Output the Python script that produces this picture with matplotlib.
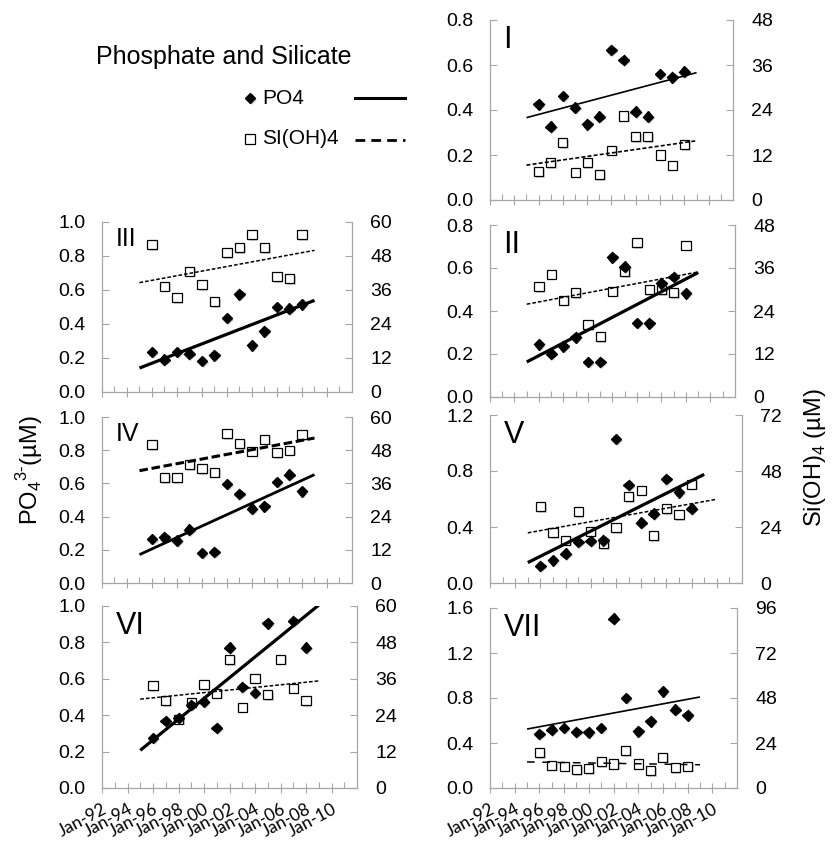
import matplotlib.pyplot as plt
import matplotlib.patheffects as pe
from matplotlib.lines import Line2D

plt.rcParams['font.family'] = ['Liberation Sans', 'DejaVu Sans']
plt.rcParams['mathtext.fontset'] = 'custom'
plt.rcParams['mathtext.rm'] = 'Liberation Sans'

# Data (annual values, Jan of each year)
years = [1996, 1997, 1998, 1999, 2000, 2001, 2002, 2003, 2004, 2005, 2006, 2007, 2008]
trend_years = [1995, 2009]
xtick_years = [1992, 1994, 1996, 1998, 2000, 2002, 2004, 2006, 2008, 2010]
xtick_labels = ['Jan-92', 'Jan-94', 'Jan-96', 'Jan-98', 'Jan-00',
                'Jan-02', 'Jan-04', 'Jan-06', 'Jan-08', 'Jan-10']

po4_I = [0.425, 0.326, 0.462, 0.410, 0.336, 0.370, 0.667, 0.622, 0.393, 0.370, 0.560, 0.545, 0.570]
si_I = [7.6, 10.0, 15.3, 7.4, 10.0, 6.8, 13.3, 22.4, 16.9, 16.9, 12.0, 9.3, 14.8]
po4_trend_I = [0.366, 0.566]
si_trend_I = [9.3, 15.8]

po4_II = [0.245, 0.202, 0.236, 0.277, 0.163, 0.163, 0.649, 0.606, 0.345, 0.342, 0.528, 0.559, 0.482]
si_II = [30.8, 34.3, 27.0, 29.1, 20.2, 16.8, 29.5, 34.9, 43.1, 30.0, 30.0, 29.1, 42.4]
po4_trend_II = [0.163, 0.579]
si_trend_II = [25.9, 34.9]

po4_III = [0.235, 0.190, 0.235, 0.225, 0.182, 0.216, 0.435, 0.575, 0.275, 0.357, 0.500, 0.490, 0.516]
si_III = [52.0, 37.3, 33.3, 42.7, 37.9, 31.8, 49.2, 50.9, 55.6, 50.9, 40.6, 40.0, 55.6]
po4_trend_III = [0.141, 0.539]
si_trend_III = [38.6, 50.0]

po4_IV = [0.265, 0.275, 0.255, 0.321, 0.181, 0.187, 0.596, 0.536, 0.448, 0.462, 0.608, 0.653, 0.552]
si_IV = [50.0, 38.0, 38.0, 42.8, 41.3, 40.1, 53.9, 50.4, 47.6, 52.0, 47.0, 48.0, 53.6]
po4_trend_IV = [0.171, 0.653]
si_trend_IV = [40.6, 52.4]

po4_V = [0.122, 0.162, 0.210, 0.294, 0.301, 0.305, 1.029, 0.699, 0.430, 0.496, 0.742, 0.647, 0.532]
si_V = [32.6, 21.5, 18.3, 30.5, 22.2, 16.9, 23.6, 36.9, 39.8, 20.2, 31.9, 29.3, 42.3]
po4_trend_V = [0.146, 0.776]
si_trend_years_V = [1995, 2010]
si_trend_V = [21.5, 35.9]

po4_VI = [0.274, 0.369, 0.384, 0.457, 0.475, 0.329, 0.771, 0.554, 0.521, 0.905, None, 0.918, 0.771]
si_VI = [33.7, 28.7, 22.7, 28.2, 34.0, 31.3, 42.4, 26.6, 36.2, 30.7, 42.5, 32.9, 28.7]
po4_trend_VI = [0.207, 1.005]
si_trend_VI = [29.3, 35.3]

po4_VII = [0.480, 0.519, 0.533, 0.498, 0.495, 0.533, 1.505, 0.800, 0.504, 0.593, 0.859, 0.696, 0.646]
si_VII = [18.7, 12.1, 11.6, 9.8, 10.3, 13.9, 12.8, 19.9, 12.8, 9.4, 16.5, 10.7, 11.6]
po4_trend_VII = [0.524, 0.809]
si_trend_VII = [13.9, 12.4]

W, H = 838, 841
GRAY = '#a6a6a6'
shadow = [pe.SimplePatchShadow(offset=(1.2, -1.2), shadow_rgbFace='0.5', alpha=0.35), pe.Normal()]

thin_dash = (0, (2.4, 1.3))
thick_dash = (0, (2.8, 1.2))
long_dash = (0, (5, 5))

# name, rect(px: left, top, right, bottom), po4 ylim, si ylim, label size, data, trends, styles
panels = [
    dict(name='I', rect=(490, 20, 733, 200), ymax=0.8, ystep=0.2, smax=48, sstep=12, fs=22,
         po4=po4_I, si=si_I, pt=po4_trend_I, st=si_trend_I, sy=trend_years,
         plw=1.2, slw=1.2, sls=thin_dash, xlabels=False),
    dict(name='III', rect=(102, 222, 352, 392), ymax=1.0, ystep=0.2, smax=60, sstep=12, fs=18,
         po4=po4_III, si=si_III, pt=po4_trend_III, st=si_trend_III, sy=trend_years,
         plw=2.3, slw=1.1, sls=thin_dash, xlabels=False),
    dict(name='II', rect=(490, 225, 735, 397), ymax=0.8, ystep=0.2, smax=48, sstep=12, fs=22,
         po4=po4_II, si=si_II, pt=po4_trend_II, st=si_trend_II, sy=trend_years,
         plw=2.3, slw=1.1, sls=thin_dash, xlabels=False),
    dict(name='IV', rect=(102, 417, 352, 583), ymax=1.0, ystep=0.2, smax=60, sstep=12, fs=18,
         po4=po4_IV, si=si_IV, pt=po4_trend_IV, st=si_trend_IV, sy=trend_years,
         plw=2.0, slw=2.2, sls=thick_dash, xlabels=False),
    dict(name='V', rect=(490, 415, 742, 583), ymax=1.2, ystep=0.4, smax=72, sstep=24, fs=22,
         po4=po4_V, si=si_V, pt=po4_trend_V, st=si_trend_V, sy=si_trend_years_V,
         plw=2.3, slw=1.1, sls=thin_dash, xlabels=False),
    dict(name='VI', rect=(102, 606, 357, 788), ymax=1.0, ystep=0.2, smax=60, sstep=12, fs=22,
         po4=po4_VI, si=si_VI, pt=po4_trend_VI, st=si_trend_VI, sy=trend_years,
         plw=2.3, slw=1.1, sls=thin_dash, xlabels=True),
    dict(name='VII', rect=(490, 608, 737, 788), ymax=1.6, ystep=0.4, smax=96, sstep=24, fs=22,
         po4=po4_VII, si=si_VII, pt=po4_trend_VII, st=si_trend_VII, sy=trend_years,
         plw=1.2, slw=1.1, sls=long_dash, xlabels=True),
]


def frange(stop, step):
    n = int(round(stop / step))
    return [round(i * step, 2) for i in range(n + 1)]


def draw_panel(fig, p):
    l, t, r, b = p['rect']
    ax = fig.add_axes([l / W, 1 - b / H, (r - l) / W, (b - t) / H])
    ax2 = ax.twinx()
    ax.set_zorder(ax2.get_zorder() + 1)
    ax.patch.set_visible(False)

    po4 = [float('nan') if v is None else v for v in p['po4']]
    ax2.plot(years, p['si'], linestyle='none', marker='s', markersize=6.5,
             markerfacecolor='white', markeredgecolor='black', markeredgewidth=0.9,
             path_effects=shadow)
    ax2.plot(p['sy'], p['st'], color='black', linewidth=p['slw'], linestyle=p['sls'])
    ax.plot(years, po4, linestyle='none', marker='D', markersize=5.4,
            color='black', path_effects=shadow)
    ax.plot(trend_years, p['pt'], color='black', linewidth=p['plw'], solid_capstyle='butt')

    ax.set_xlim(1992, 2012)
    ax.set_ylim(0, p['ymax'])
    ax2.set_ylim(0, p['smax'])
    ax.set_yticks(frange(p['ymax'], p['ystep']))
    ax.set_yticklabels([f'{v:.1f}' for v in frange(p['ymax'], p['ystep'])])
    ax2.set_yticks(frange(p['smax'], p['sstep']))
    ax2.set_yticklabels([f'{int(v)}' for v in frange(p['smax'], p['sstep'])])

    ax.set_xticks(xtick_years)
    ax.set_xticks(list(range(1993, 2012, 2)), minor=True)
    if p['xlabels']:
        ax.set_xticklabels(xtick_labels, rotation=28, ha='right', rotation_mode='anchor',
                           fontfamily='Lato', fontsize=12.5)
    else:
        ax.set_xticklabels([])

    for a in (ax, ax2):
        for s in a.spines.values():
            s.set_visible(False)
    for s in ('left', 'bottom'):
        ax.spines[s].set_visible(True)
        ax.spines[s].set_color(GRAY)
        ax.spines[s].set_linewidth(0.9)
    ax2.spines['right'].set_visible(True)
    ax2.spines['right'].set_color(GRAY)
    ax2.spines['right'].set_linewidth(0.9)

    ax.tick_params(axis='y', direction='in', length=5, width=0.8, color=GRAY,
                   labelsize=14, pad=12)
    ax2.tick_params(axis='y', direction='in', length=5, width=0.8, color=GRAY,
                    labelsize=14, pad=13)
    ax.tick_params(axis='x', which='major', direction='inout', length=7, width=0.8,
                   color=GRAY, pad=5.5)
    ax.tick_params(axis='x', which='minor', direction='in', length=4, width=0.8, color=GRAY)

    ax.text(0.055, 0.97, p['name'], transform=ax.transAxes, fontsize=p['fs'],
            ha='left', va='top')
    return ax


fig = plt.figure(figsize=(W / 100, H / 100), dpi=100)
for p in panels:
    draw_panel(fig, p)


def fx(x):
    return x / W


def fy(y):
    return 1 - y / H


# Legend block
fig.text(fx(96), fy(57), 'Phosphate and Silicate', fontsize=18, ha='left', va='center')
fig.add_artist(Line2D([fx(250)], [fy(98)], marker='D', markersize=5.4, color='black',
                      linestyle='none', path_effects=shadow))
fig.text(fx(262), fy(98), 'PO4', fontsize=15, ha='left', va='center')
fig.add_artist(Line2D([fx(355), fx(405)], [fy(98), fy(98)], color='black', linewidth=2.2))
fig.add_artist(Line2D([fx(250)], [fy(139)], marker='s', markersize=6.5, markerfacecolor='white',
                      markeredgecolor='black', markeredgewidth=0.9, linestyle='none'))
fig.text(fx(262), fy(139), 'SI(OH)4', fontsize=15, ha='left', va='center')
fig.add_artist(Line2D([fx(355), fx(405)], [fy(140), fy(140)], color='black', linewidth=2.0,
                      linestyle=(0, (3.5, 2.2))))

# Axis titles
fig.text(fx(30), fy(470), r'PO$_\mathregular{4}$$^\mathregular{3‐}$(µM)', fontsize=17,
         rotation=90, ha='center', va='center')
fig.text(fx(815), fy(458), r'Si(OH)$_\mathregular{4}$ (µM)', fontsize=17,
         rotation=90, ha='center', va='center')

fig.savefig('out.png', dpi=100)
